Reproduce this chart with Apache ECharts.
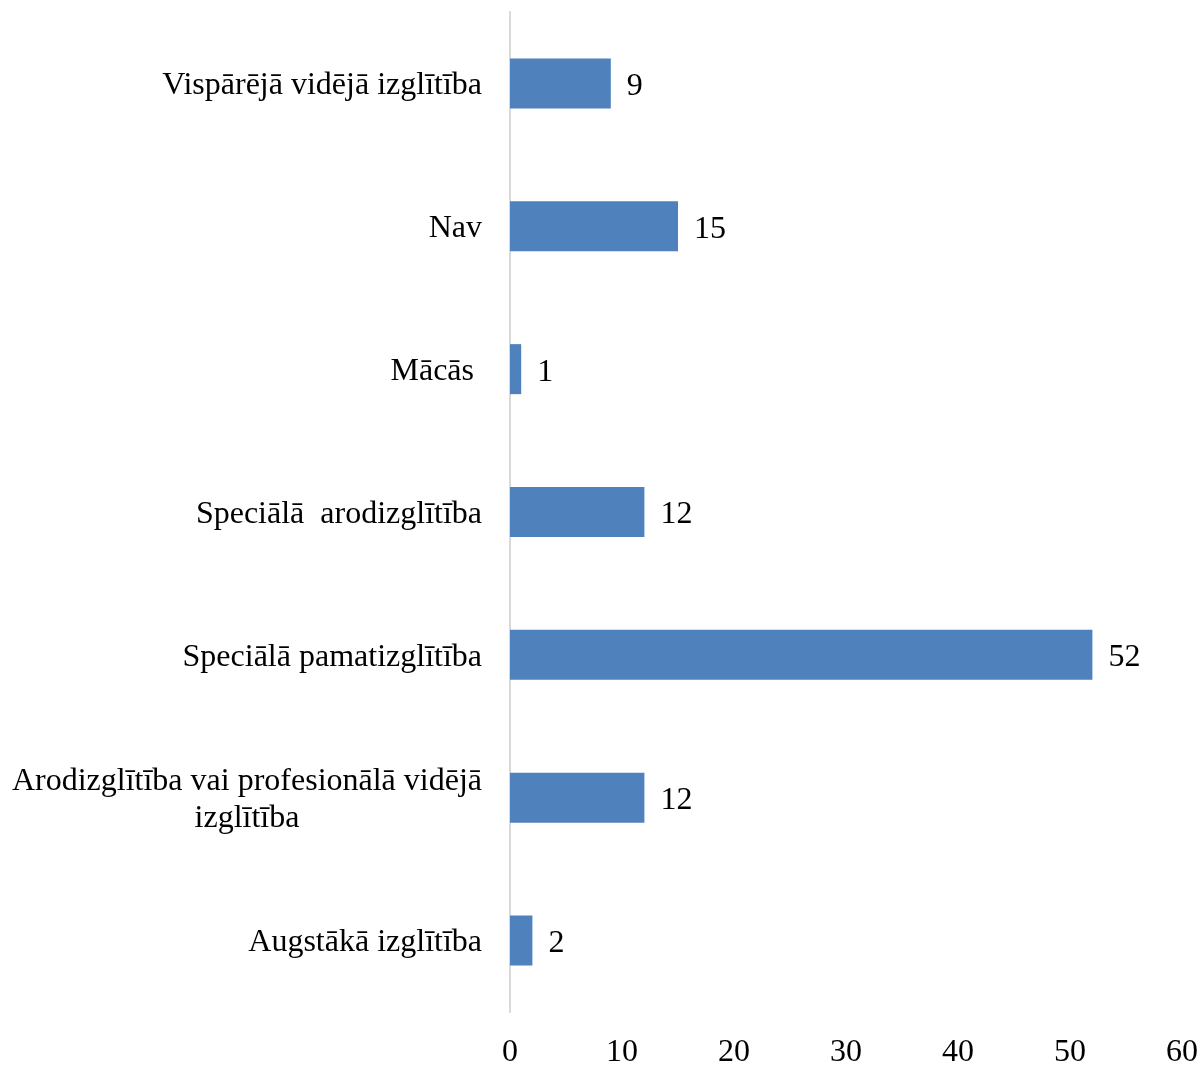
<!DOCTYPE html>
<html>
<head>
<meta charset="utf-8">
<script src="https://cdn.jsdelivr.net/npm/echarts@6/dist/echarts.min.js"></script>
<style>html,body{margin:0;padding:0;background:#fff}#c{width:1204px;height:1067px}</style>
</head>
<body>
<div id="c"></div>
<script>
const categories = [
  "Augstākā izglītība",
  "Arodizglītība vai profesionālā vidējā\nizglītība",
  "Speciālā pamatizglītība",
  "Speciālā  arodizglītība",
  "Mācās ",
  "Nav",
  "Vispārējā vidējā izglītība"
];
const values = [2, 12, 52, 12, 1, 15, 9];
const xTicks = [0, 10, 20, 30, 40, 50, 60];

const font = "'Liberation Serif', 'Times New Roman', serif";
const fs = 32;
const chart = echarts.init(document.getElementById('c'), null, {renderer: 'canvas'});
chart.setOption({
  animation: false,
  backgroundColor: '#fff',
  grid: {left: 510, right: 22, top: 12, bottom: 55, containLabel: false, outerBoundsMode: 'none'},
  xAxis: {
    type: 'value',
    min: xTicks[0],
    max: xTicks[xTicks.length - 1],
    interval: 10,
    axisLine: {show: false},
    axisTick: {show: false},
    splitLine: {show: false},
    axisLabel: {fontFamily: font, fontSize: fs, color: '#000', margin: 25}
  },
  yAxis: {
    type: 'category',
    data: categories,
    axisLine: {show: true, lineStyle: {color: '#d9d9d9', width: 2}},
    axisTick: {show: false},
    splitLine: {show: false},
    axisLabel: {
      fontFamily: font, fontSize: fs, color: '#000', margin: 28, lineHeight: 37,
      padding: [5, 0, 0, 0],
      formatter: function (v) {
        const parts = v.split('\n');
        if (parts.length === 1) return v;
        return parts[0] + '\n{c|' + parts[1] + '}';
      },
      rich: {c: {align: 'center', fontFamily: font, fontSize: fs, color: '#000', lineHeight: 37}}
    }
  },
  series: [{
    type: 'bar',
    data: values,
    barWidth: 50,
    itemStyle: {color: '#4f81bd'},
    label: {show: true, position: 'right', distance: 16, offset: [0, 3], fontFamily: font, fontSize: fs, color: '#000'}
  }]
});
</script>
</body>
</html>
